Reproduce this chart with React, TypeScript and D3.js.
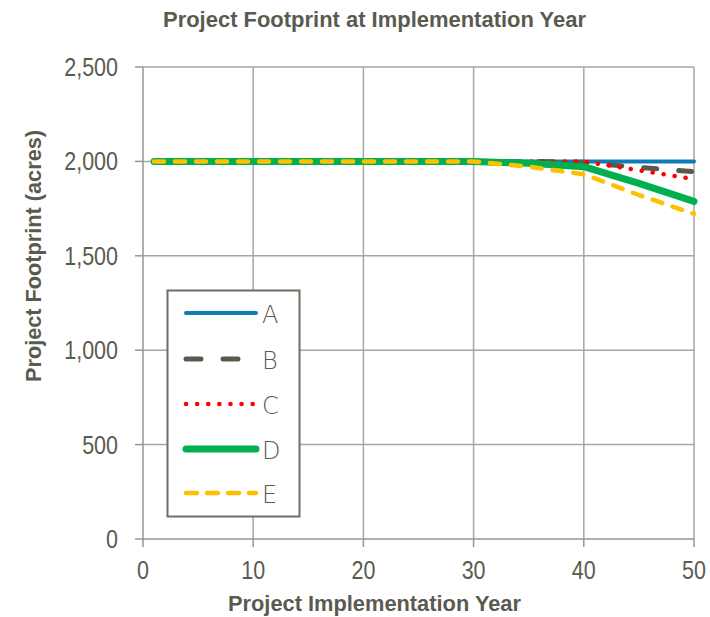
import React from "react";
import * as d3 from "d3";

const years = [1, 30, 35, 40, 45, 50];
const seriesA = [2000, 2000, 2000, 2000, 2000, 2000];
const seriesB = [2000, 2000, 2000, 1995, 1968, 1945];
const seriesC = [2000, 2000, 2000, 2000, 1953, 1906];
const seriesD = [2000, 2000, 1990, 1972, 1884, 1788];
const seriesE = [2000, 2000, 1972, 1932, 1822, 1722];
const seriesNames = ["A", "B", "C", "D", "E"];
const xTicks = [0, 10, 20, 30, 40, 50];
const yTicks = [0, 500, 1000, 1500, 2000, 2500];

const styles: Record<string, { color: string; width: number; dash: string; legendDash: string }> = {
  A: { color: "#0F7CB6", width: 4, dash: "", legendDash: "" },
  B: { color: "#595A4E", width: 5, dash: "13 22", legendDash: "15 22" },
  C: { color: "#FF0000", width: 4.5, dash: "0.1 11", legendDash: "0.1 11" },
  D: { color: "#00B050", width: 7, dash: "", legendDash: "" },
  E: { color: "#FFC000", width: 4.5, dash: "10 11", legendDash: "11 10" },
};

const textColor = "#5A5B4F";
const font = "'Liberation Sans', Arial, sans-serif";

export default function App() {
  const W = 710, H = 617;
  const x = d3.scaleLinear().domain([0, 50]).range([143, 694]);
  const y = d3.scaleLinear().domain([0, 2500]).range([539, 67]);
  const data = [seriesA, seriesB, seriesC, seriesD, seriesE];
  const line = d3
    .line<[number, number]>()
    .x((d) => x(d[0]))
    .y((d) => y(d[1]));
  const gridColor = "#A6A6A6";
  const axisColor = "#969696";
  const legendRows = [313, 359, 404, 449, 493];
  const sx = 0.86;

  return (
    <svg width={W} height={H} style={{ position: "absolute", left: 0, top: 0 }}>
      <rect width={W} height={H} fill="#fff" />
      <text x={163} y={27} textLength={423} lengthAdjust="spacingAndGlyphs" fontFamily={font} fontWeight="bold" fontSize={22.5} fill={textColor}>
        Project Footprint at Implementation Year
      </text>
      {yTicks.map((t) => (
        <g key={"y" + t}>
          {t > 0 && <line x1={x(0)} x2={x(50)} y1={y(t)} y2={y(t)} stroke={gridColor} strokeWidth={1.5} />}
          <line x1={135} x2={x(0)} y1={y(t)} y2={y(t)} stroke={axisColor} strokeWidth={1.5} />
          <text
            transform={`translate(118,${y(t) + 9}) scale(${sx},1)`}
            textAnchor="end"
            fontFamily={font}
            fontSize={25}
            fill={textColor}
          >
            {d3.format(",")(t)}
          </text>
        </g>
      ))}
      {xTicks.map((t) => (
        <g key={"x" + t}>
          {t > 0 && <line x1={x(t)} x2={x(t)} y1={y(0)} y2={y(2500)} stroke={gridColor} strokeWidth={1.5} />}
          <line x1={x(t)} x2={x(t)} y1={y(0)} y2={y(0) + 8} stroke={axisColor} strokeWidth={1.5} />
          <text
            transform={`translate(${x(t)},579) scale(${sx},1)`}
            textAnchor="middle"
            fontFamily={font}
            fontSize={25}
            fill={textColor}
          >
            {t}
          </text>
        </g>
      ))}
      <line x1={x(0)} x2={x(0)} y1={y(0)} y2={y(2500)} stroke={axisColor} strokeWidth={1.5} />
      <line x1={x(0)} x2={x(50)} y1={y(0)} y2={y(0)} stroke={axisColor} strokeWidth={1.5} />
      {data.map((s, i) => {
        const st = styles[seriesNames[i]];
        const pts = years.map((yr, j) => [yr, s[j]] as [number, number]);
        return (
          <path
            key={seriesNames[i]}
            d={line(pts) || ""}
            fill="none"
            stroke={st.color}
            strokeWidth={st.width}
            strokeDasharray={st.dash}
            strokeLinecap="round"
            strokeLinejoin="round"
          />
        );
      })}
      <text x={228} y={611} textLength={293} lengthAdjust="spacingAndGlyphs" fontFamily={font} fontWeight="bold" fontSize={22.5} fill={textColor}>
        Project Implementation Year
      </text>
      <text
        transform="translate(41,382) rotate(-90)"
        textLength={252}
        lengthAdjust="spacingAndGlyphs"
        fontFamily={font}
        fontWeight="bold"
        fontSize={22.5}
        fill={textColor}
      >
        Project Footprint (acres)
      </text>
      <rect x={167.5} y={290.5} width={132} height={226} fill="#fff" stroke="#6E6F64" strokeWidth={2} />
      {seriesNames.map((n, i) => {
        const st = styles[n];
        return (
          <g key={"lg" + n}>
            <line
              x1={186}
              x2={256}
              y1={legendRows[i]}
              y2={legendRows[i]}
              stroke={st.color}
              strokeWidth={st.width}
              strokeDasharray={st.legendDash}
              strokeLinecap="round"
            />
            <text x={262} y={legendRows[i] + 10} fontFamily="'DejaVu Sans', sans-serif" fontSize={24} fill={textColor} fontWeight="200">
              {n}
            </text>
          </g>
        );
      })}
    </svg>
  );
}
